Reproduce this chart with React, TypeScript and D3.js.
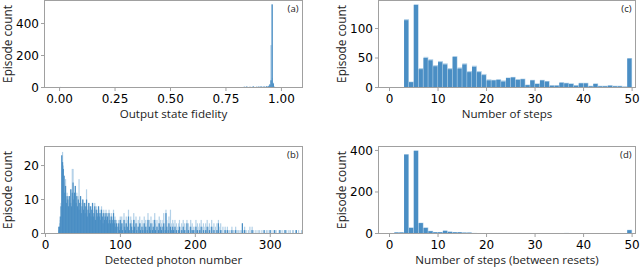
import React from "react";
import * as d3 from "d3";

// (a) Output state fidelity histogram (sparse bins, width 0.005)
const fidelityEdges = [0.0, 0.05, 0.83, 0.835, 0.84, 0.845, 0.85, 0.855, 0.86, 0.865, 0.87, 0.875, 0.88, 0.885, 0.89, 0.895, 0.9, 0.905, 0.91, 0.915, 0.92, 0.925, 0.93, 0.935, 0.94, 0.945, 0.95, 0.955, 0.96, 0.965];
const fidelityDark = [3, 3, 4, 2, 5, 3, 2, 4, 3, 2, 6, 3, 2, 4, 3, 5, 2, 6, 3, 4, 5, 3, 7, 4, 8, 18, 45, 520, 25, 4];
const fidelityLight = [4, 3, 6, 3, 7, 4, 3, 5, 4, 3, 8, 4, 3, 6, 4, 7, 3, 8, 4, 6, 7, 4, 9, 6, 12, 22, 265, 60, 30, 6];
const fidelityBinWidth = 0.005;
const fidelityTicks = [0, 0.25, 0.5, 0.75, 1.0];
const fidelityYTicks = [0, 200, 400];

// (b) Detected photon number (unit bins starting at 10)
const photonStart = 10;
const photonDark = [
  0, 0, 0, 0, 0, 0, 0, 2, 2, 5,
  8, 23, 21, 19, 17, 12, 14, 9, 11, 10,
  8, 11, 9, 13, 8, 12, 15, 10, 12, 14,
  9, 11, 8, 10, 7, 9, 11, 6, 8, 10,
  7, 9, 6, 8, 10, 5, 7, 9, 6, 8,
  5, 7, 9, 5, 6, 8, 4, 7, 6, 5,
  8, 5, 6, 4, 7, 5, 3, 6, 4, 5,
  6, 4, 5, 3, 6, 4, 3, 5, 4, 3,
  6, 3, 4, 2, 3, 0, 2, 3, 1, 4,
  2, 3, 1, 0, 4, 2, 1, 3, 0, 2,
  5, 1, 0, 3, 2, 0, 1, 4, 2, 0,
  3, 1, 0, 2, 0, 3, 1, 0, 2, 1,
  0, 3, 1, 2, 0, 1, 4, 0, 2, 1,
  3, 0, 1, 2, 0, 4, 1, 0, 2, 0,
  1, 3, 0, 2, 1, 0, 2, 3, 0, 1,
  6, 2, 0, 1, 3, 0, 2, 1, 0, 2,
  1, 0, 2, 0, 1, 0, 0, 1, 2, 0,
  0, 1, 0, 2, 0, 1, 0, 0, 3, 0,
  1, 0, 0, 2, 0, 1, 0, 1, 0, 0,
  2, 0, 1, 0, 0, 1, 0, 2, 0, 0,
  1, 0, 0, 1, 0, 2, 0, 0, 1, 0,
  0, 2, 0, 0, 1, 0, 0, 0, 1, 0,
  3, 0, 0, 1, 0, 0, 0, 0, 0, 1,
  0, 0, 1, 0, 0, 0, 0, 0, 1, 0,
  0, 0, 0, 1, 0, 0, 0, 0, 0, 0,
  0, 0, 3, 0, 0, 1, 0, 0, 0, 0,
  0, 0, 0, 0, 0, 1, 0, 0, 0, 0,
  0, 0, 0, 0, 0, 0, 0, 0, 0, 0,
  0, 1, 0, 0, 0, 0, 0, 0, 0, 1,
  0, 0, 0, 0, 0, 1, 0, 0, 0, 0,
  0, 0, 1, 0, 0, 0, 0, 0, 0, 1,
  0, 0, 0, 0, 0, 0, 0, 0, 0, 0,
  0, 0, 0, 0, 1, 0, 0, 0, 0, 0,
  0, 0, 0, 1, 0, 0, 0, 0, 0, 0,
];
const photonLight = [
  0, 0, 0, 0, 0, 0, 0, 1, 3, 4,
  9, 23, 24, 20, 17, 15, 16, 10, 12, 11,
  8, 11, 10, 13, 9, 19, 19, 11, 12, 14,
  9, 12, 8, 11, 16, 9, 11, 7, 9, 10,
  8, 9, 7, 9, 13, 6, 8, 9, 7, 8,
  6, 8, 9, 6, 7, 9, 5, 8, 7, 6,
  8, 6, 7, 5, 8, 6, 4, 7, 5, 6,
  7, 5, 6, 4, 7, 5, 4, 6, 5, 4,
  7, 4, 5, 3, 4, 2, 3, 4, 2, 5,
  4, 5, 3, 2, 6, 4, 3, 5, 2, 4,
  7, 3, 2, 5, 4, 2, 3, 6, 4, 2,
  5, 3, 2, 4, 2, 5, 3, 2, 4, 3,
  2, 5, 3, 4, 2, 3, 6, 2, 4, 3,
  5, 2, 3, 4, 2, 6, 3, 2, 4, 2,
  3, 5, 2, 4, 3, 2, 4, 6, 2, 3,
  7, 4, 2, 3, 5, 2, 7, 3, 2, 4,
  3, 1, 4, 2, 3, 1, 2, 3, 4, 1,
  2, 3, 1, 4, 2, 3, 1, 2, 4, 1,
  3, 1, 2, 4, 1, 3, 1, 2, 1, 2,
  4, 1, 3, 1, 2, 3, 1, 4, 1, 2,
  3, 1, 2, 3, 1, 4, 1, 2, 3, 1,
  2, 4, 1, 2, 3, 1, 2, 1, 3, 1,
  4, 1, 2, 3, 1, 1, 2, 0, 1, 2,
  1, 0, 2, 1, 0, 1, 0, 1, 2, 0,
  1, 0, 1, 2, 0, 1, 0, 1, 0, 1,
  0, 1, 3, 1, 0, 2, 0, 1, 0, 0,
  1, 0, 2, 0, 1, 2, 0, 1, 0, 0,
  1, 0, 0, 1, 0, 1, 0, 0, 1, 0,
  0, 1, 0, 0, 1, 0, 1, 0, 0, 1,
  1, 0, 0, 1, 0, 1, 0, 1, 0, 0,
  0, 1, 1, 0, 0, 1, 0, 0, 1, 1,
  0, 1, 0, 0, 1, 0, 1, 0, 0, 1,
  1, 0, 0, 1, 1, 0, 0, 1, 0, 0,
  0, 1, 0, 1, 0, 1, 0, 0, 1, 0,
];
const photonTicks = [0, 100, 200, 300];
const photonYTicks = [0, 10, 20];

// (c) Number of steps (unit bins starting at 3)
const stepsStart = 3;
const stepsDark = [114, 9, 140, 31, 50, 46, 36, 43, 39, 31, 52, 32, 39, 26, 35, 26, 21, 12, 12, 13, 10, 16, 17, 13, 14, 4, 12, 6, 12, 10, 3, 3, 8, 7, 6, 3, 7, 7, 2, 6, 2, 2, 3, 2, 2, 1, 49];
const stepsLight = [116, 10, 141, 33, 52, 48, 38, 45, 41, 33, 53, 34, 41, 28, 37, 28, 23, 14, 13, 14, 12, 17, 18, 14, 15, 5, 13, 7, 13, 11, 4, 4, 9, 8, 7, 4, 8, 8, 3, 7, 3, 3, 4, 3, 3, 2, 50];
const stepsTicks = [0, 10, 20, 30, 40, 50];
const stepsYTicks = [0, 50, 100];

// (d) Number of steps between resets (unit bins starting at 0)
const resetStart = 0;
const resetDark = [
  0, 5, 5, 380, 27, 398, 50, 27, 11, 6,
  6, 13, 8, 6, 6, 4, 4, 2, 1, 1,
  0, 0, 0, 0, 0, 0, 0, 0, 0, 0,
  0, 0, 0, 0, 0, 0, 1, 0, 0, 0,
  0, 0, 0, 0, 0, 0, 0, 0, 0, 16,
];
const resetLight = [
  0, 6, 6, 382, 29, 400, 52, 29, 13, 7,
  7, 14, 9, 7, 7, 5, 5, 3, 2, 1,
  1, 0, 1, 0, 0, 1, 0, 0, 0, 0,
  0, 0, 0, 0, 0, 1, 3, 0, 0, 0,
  0, 0, 0, 0, 1, 0, 0, 0, 0, 18,
];
const resetTicks = [0, 10, 20, 30, 40, 50];
const resetYTicks = [0, 200, 400];

const DARK = "#4a8ec4";
const LIGHT = "#b3d1e8";
const FRAME = "#a0a0a0";
const TICK_FONT = "DejaVu Sans, sans-serif";
const LABEL_FONT = "Open Sans, sans-serif";

type Bin = { x0: number; x1: number; dark: number; light: number };

function Panel(props: {
  left: number; top: number; right: number; bottom: number;
  xDomain: [number, number]; yDomain: [number, number];
  bins: Bin[]; xTicks: number[]; yTicks: number[];
  xFmt: (v: number) => string; xLabel: string; tag: string;
  darkInset: number; overlap: number;
}) {
  const { left, top, right, bottom, xDomain, yDomain, bins, xTicks, yTicks, xFmt, xLabel, tag, darkInset, overlap } = props;
  const x = d3.scaleLinear().domain(xDomain).range([left, right]);
  const y = d3.scaleLinear().domain(yDomain).range([bottom, top]);
  const clipId = "clip-" + tag;
  return (
    <g>
      <defs>
        <clipPath id={clipId}>
          <rect x={left} y={top} width={right - left} height={bottom - top} />
        </clipPath>
      </defs>
      <g clipPath={`url(#${clipId})`}>
        {bins.filter((b) => b.light > 0).map((b, i) => (
          <rect key={"l" + i} x={x(b.x0)} width={Math.max(0.6, x(b.x1) - x(b.x0) + overlap)}
            y={y(b.light)} height={y(0) - y(b.light)} fill={LIGHT} />
        ))}
        {bins.filter((b) => b.dark > 0).map((b, i) => (
          <rect key={"d" + i} x={x(b.x0)} width={Math.max(0.5, x(b.x1) - x(b.x0) - darkInset + overlap)}
            y={y(b.dark)} height={y(0) - y(b.dark)} fill={DARK} />
        ))}
      </g>
      <rect x={left} y={top} width={right - left} height={bottom - top} fill="none" stroke={FRAME} strokeWidth={1} />
      {xTicks.map((t) => (
        <g key={"xt" + t}>
          <line x1={x(t)} x2={x(t)} y1={bottom} y2={bottom + 3.5} stroke={FRAME} />
          <text x={x(t)} y={bottom + 15} textAnchor="middle" fontFamily={TICK_FONT} fontSize={12} fill="#000">{xFmt(t)}</text>
        </g>
      ))}
      {yTicks.map((t) => (
        <g key={"yt" + t}>
          <line x1={left - 3.5} x2={left} y1={y(t)} y2={y(t)} stroke={FRAME} />
          <text x={left - 5.5} y={y(t)} dy="0.36em" textAnchor="end" fontFamily={TICK_FONT} fontSize={12} fill="#000">{t}</text>
        </g>
      ))}
      <text x={(left + right) / 2} y={bottom + 30} textAnchor="middle" fontFamily={LABEL_FONT} fontSize={11.6} fill="#222">{xLabel}</text>
      <text transform={`translate(${left - 32.5},${(top + bottom) / 2}) rotate(-90)`} textAnchor="middle" fontFamily={LABEL_FONT} fontSize={11.8} fill="#222">Episode count</text>
      <text x={right - 4} y={top + 11} textAnchor="end" fontFamily={LABEL_FONT} fontSize={9.5} fill="#222">({tag})</text>
    </g>
  );
}

function unitBins(start: number, dark: number[], light: number[], width: number): Bin[] {
  return dark.map((d, i) => ({ x0: start + i * width, x1: start + (i + 1) * width, dark: d, light: light[i] }));
}

export default function App() {
  const binsA: Bin[] = fidelityEdges.map((e, i) => ({ x0: e, x1: e + fidelityBinWidth, dark: fidelityDark[i], light: fidelityLight[i] }));
  const binsB = unitBins(photonStart, photonDark, photonLight, 1);
  const binsC = unitBins(stepsStart, stepsDark, stepsLight, 1);
  const binsD = unitBins(resetStart, resetDark, resetLight, 1);
  return (
    <svg width={640} height={267} style={{ position: "absolute", left: 0, top: 0, background: "#fff" }}>
      <Panel left={44.5} top={0.5} right={302.5} bottom={87.5} xDomain={[-0.068, 1.095]} yDomain={[0, 544]}
        bins={binsA} xTicks={fidelityTicks} yTicks={fidelityYTicks} xFmt={(v) => v.toFixed(2)}
        xLabel="Output state fidelity" tag="a" darkInset={0} overlap={0.3} />
      <Panel left={44.5} top={146.5} right={302.5} bottom={233.5} xDomain={[-1.3, 343]} yDomain={[0, 25.6]}
        bins={binsB} xTicks={photonTicks} yTicks={photonYTicks} xFmt={(v) => String(v)}
        xLabel="Detected photon number" tag="b" darkInset={0} overlap={0.45} />
      <Panel left={378.5} top={0.5} right={635.5} bottom={87.5} xDomain={[-2.27, 50.7]} yDomain={[0, 147.5]}
        bins={binsC} xTicks={stepsTicks} yTicks={stepsYTicks} xFmt={(v) => String(v)}
        xLabel="Number of steps" tag="c" darkInset={0.6} overlap={0} />
      <Panel left={378.5} top={146.5} right={635.5} bottom={233.5} xDomain={[-2.27, 50.7]} yDomain={[0, 419]}
        bins={binsD} xTicks={resetTicks} yTicks={resetYTicks} xFmt={(v) => String(v)}
        xLabel="Number of steps (between resets)" tag="d" darkInset={0.6} overlap={0} />
    </svg>
  );
}
